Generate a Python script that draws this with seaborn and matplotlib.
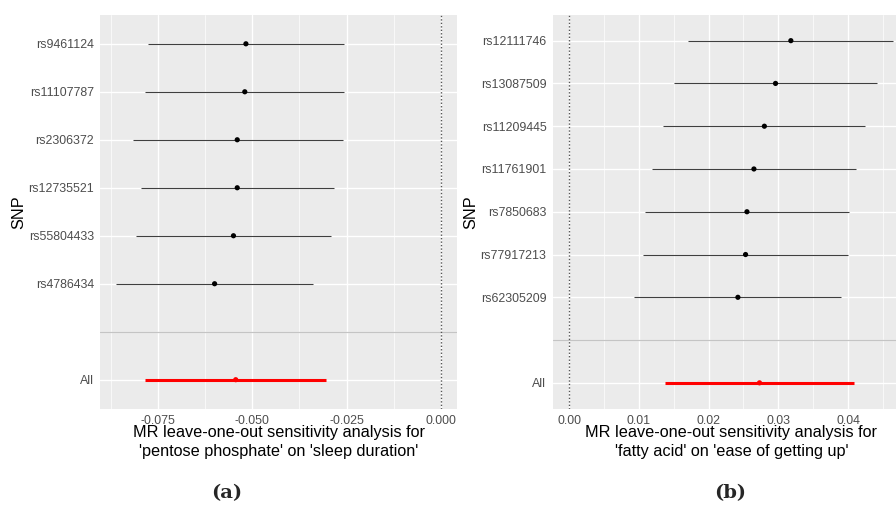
import numpy as np
import pandas as pd
import matplotlib
matplotlib.use("Agg")
import matplotlib.pyplot as plt
from matplotlib.ticker import MultipleLocator
import seaborn as sns

# ---------------- data (top-to-bottom order) ----------------
snps_a = ["rs9461124", "rs11107787", "rs2306372", "rs12735521", "rs55804433", "rs4786434", "", "All"]
b_a    = [-0.0517, -0.0520, -0.0540, -0.0540, -0.0550, -0.0600, np.nan, -0.0544]
lo_a   = [-0.0776, -0.0784, -0.0817, -0.0796, -0.0809, -0.0862, np.nan, -0.0784]
hi_a   = [-0.0256, -0.0256, -0.0261, -0.0284, -0.0292, -0.0340, np.nan, -0.0304]
xticks_a = [-0.075, -0.050, -0.025, 0.000]
xticklabels_a = ["-0.075", "-0.050", "-0.025", "0.000"]
title_a = "MR leave-one-out sensitivity analysis for\n'pentose phosphate' on 'sleep duration'"

snps_b = ["rs12111746", "rs13087509", "rs11209445", "rs11761901", "rs7850683", "rs77917213", "rs62305209", "", "All"]
b_b    = [0.0318, 0.0296, 0.0280, 0.0265, 0.0255, 0.0253, 0.0242, np.nan, 0.0273]
lo_b   = [0.0171, 0.0150, 0.0134, 0.0119, 0.0109, 0.0106, 0.0093, np.nan, 0.0138]
hi_b   = [0.0465, 0.0442, 0.0425, 0.0411, 0.0401, 0.0400, 0.0390, np.nan, 0.0409]
xticks_b = [0.00, 0.01, 0.02, 0.03, 0.04]
xticklabels_b = ["0.00", "0.01", "0.02", "0.03", "0.04"]
title_b = "MR leave-one-out sensitivity analysis for\n'fatty acid' on 'ease of getting up'"

panel_labels = ["(a)", "(b)"]

# ---------------- style ----------------
sns.set_theme(style="darkgrid", rc={
    "axes.facecolor": "#EBEBEB",
    "grid.color": "white",
    "axes.edgecolor": "none",
    "figure.facecolor": "white",
})
plt.rcParams["font.family"] = ["Liberation Sans", "DejaVu Sans"]

W, H = 896, 508
fig = plt.figure(figsize=(W / 100, H / 100), dpi=100)

def px_axes(x0, y0, x1, y1):
    return fig.add_axes([x0 / W, 1 - y1 / H, (x1 - x0) / W, (y1 - y0) / H])

def draw(ax, snps, b, lo, hi, xlim, xticks, xticklabels, minor, xlabel):
    df = pd.DataFrame({"SNP": snps, "b": b, "lo": lo, "hi": hi})
    df["pos"] = np.arange(len(df))
    df["is_all"] = df["SNP"] == "All"
    n = len(df)
    ax.set_ylim(n - 1 + 0.6, -0.6)
    ax.set_xlim(*xlim)
    ax.set_axisbelow(True)
    ax.xaxis.set_minor_locator(MultipleLocator(minor))
    ax.grid(which="major", color="white", lw=1.0)
    ax.grid(which="minor", axis="x", color="white", lw=0.5)
    ax.set_yticks(df["pos"])
    ax.set_yticklabels(df["SNP"])
    ax.set_xticks(xticks)
    ax.set_xticklabels(xticklabels)
    # separator at blank level
    blank = df.loc[df["SNP"] == "", "pos"]
    for p in blank:
        ax.axhline(p, color="#C4C4C4", lw=0.9, zorder=1.5)
    ax.axvline(0, color="#555555", lw=1.0, ls=(0, (1, 1.5)), zorder=1.6)
    d = df.dropna()
    other = d[~d["is_all"]]
    alld = d[d["is_all"]]
    ax.hlines(other["pos"], other["lo"], other["hi"], color="#3f3f3f", lw=0.8, zorder=2)
    ax.hlines(alld["pos"], alld["lo"], alld["hi"], color="#FF0000", lw=2.2, zorder=2)
    sns.scatterplot(data=d, x="b", y="pos", hue="is_all",
                    palette={False: "black", True: "#FF0000"},
                    s=14, linewidth=0, legend=False, ax=ax, zorder=3)
    ax.tick_params(axis="both", which="major", length=3, width=0.8,
                   color="#333333", labelcolor="#4D4D4D", labelsize=8.9, pad=1.5)
    ax.tick_params(axis="both", which="minor", length=0)
    ax.set_xlabel(xlabel, fontsize=11.7, color="black", labelpad=-1, linespacing=1.28)
    ax.set_ylabel("SNP", fontsize=11.7, color="black", labelpad=1.5)
    for s in ax.spines.values():
        s.set_visible(False)

ax1 = px_axes(100, 15, 457.3, 408.5)
draw(ax1, snps_a, b_a, lo_a, hi_a, (-0.09037, 0.00432), xticks_a, xticklabels_a,
     0.0125, title_a)

ax2 = px_axes(552.7, 15, 910.0, 408.5)
draw(ax2, snps_b, b_b, lo_b, hi_b, (-0.00238, 0.04890), xticks_b, xticklabels_b,
     0.005, title_b)

fig.text(227 / W, 1 - 493 / H, panel_labels[0], ha="center", va="center",
         fontsize=14, fontweight="bold", family="DejaVu Serif")
fig.text(730 / W, 1 - 493 / H, panel_labels[1], ha="center", va="center",
         fontsize=14, fontweight="bold", family="DejaVu Serif")

fig.savefig("out.png", dpi=100)
